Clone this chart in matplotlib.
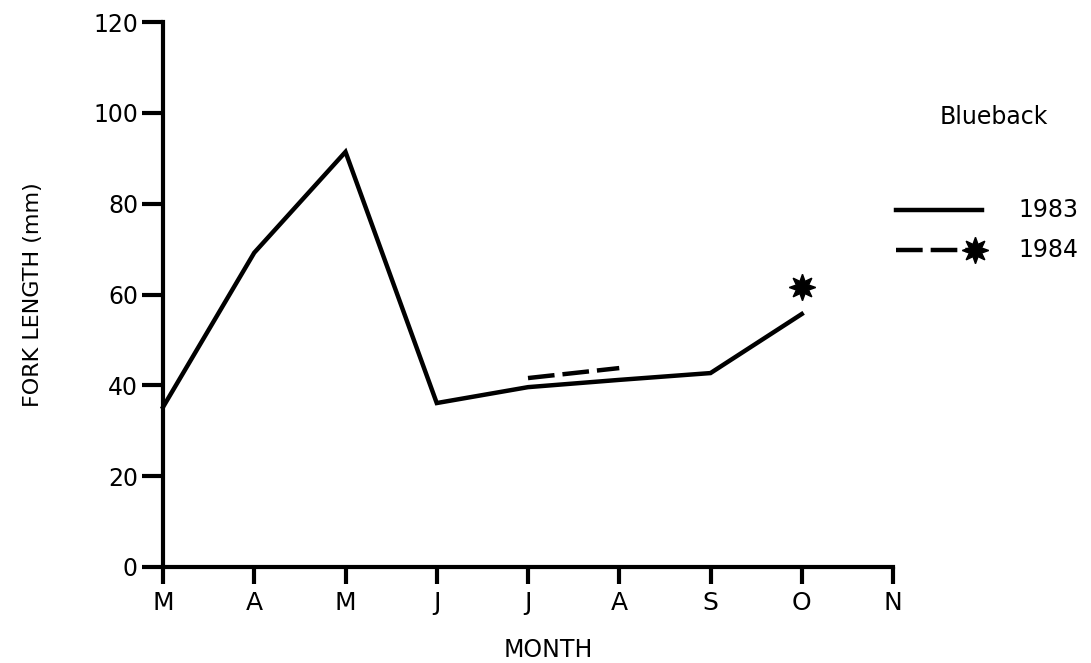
import matplotlib
matplotlib.use("Agg")
import matplotlib.pyplot as plt
from matplotlib.lines import Line2D

# data
months = ["M", "A", "M", "J", "J", "A", "S", "O", "N"]
fl_1983 = [35.2, 69.2, 91.4, 36.1, 39.6, 41.2, 42.7, 55.7]
pos_1983 = [0, 1, 2, 3, 4, 5, 6, 7]
fl_1984_dash = [41.6, 43.8]
pos_1984_dash = [4.0, 5.0]
fl_1984_star = [61.7]
pos_1984_star = [7]
yticks = [0, 20, 40, 60, 80, 100, 120]

plt.rcParams['font.family'] = ['DejaVu Sans']

fig = plt.figure(figsize=(10.91, 6.63), dpi=100)
ax = fig.add_axes([163/1091, 96/663, 730/1091, 545/663])

star = (8, 1, 0)
ax.plot(pos_1983, fl_1983, color="black", lw=3.2, solid_joinstyle="miter", clip_on=False)
ax.plot(pos_1984_dash, fl_1984_dash, color="black", lw=3.2, dashes=(6, 1.8), clip_on=False)
ax.plot(pos_1984_star, fl_1984_star, ls="none", marker=star, ms=19, color="black", clip_on=False)

ax.set_xlim(0, 8)
ax.set_ylim(0, 120)
ax.set_xticks(range(len(months)))
ax.set_xticklabels(months)
ax.set_yticks(yticks)

for s in ["top", "right"]:
    ax.spines[s].set_visible(False)
for s in ["left", "bottom"]:
    ax.spines[s].set_linewidth(3)

ax.tick_params(axis="y", direction="out", length=15, width=3, labelsize=17, pad=3)
ax.tick_params(axis="x", direction="out", length=12, width=3, labelsize=18, pad=5)

ax.set_ylabel("FORK LENGTH (mm)", fontsize=16, labelpad=36)
ax.set_xlabel("MONTH", fontsize=17, labelpad=16)
ax.xaxis.set_label_coords(0.528, -0.13)

# legend drawn by hand to the right of the axes
fig.text(994/1091, 1 - 117/663, "Blueback", fontsize=17, ha="center", va="center")
fig.add_artist(Line2D([896/1091, 982/1091], [1 - 210/663, 1 - 210/663],
                      color="black", lw=3.2))
fig.add_artist(Line2D([896/1091, 968/1091], [1 - 250/663, 1 - 250/663],
                      color="black", lw=3.2, dashes=(6, 1.8)))
fig.add_artist(Line2D([975/1091], [1 - 250/663], ls="none", marker=star,
                      ms=19, color="black"))
fig.text(1018/1091, 1 - 210/663, "1983", fontsize=17, ha="left", va="center")
fig.text(1018/1091, 1 - 250/663, "1984", fontsize=17, ha="left", va="center")

fig.savefig("out.png", dpi=100)
